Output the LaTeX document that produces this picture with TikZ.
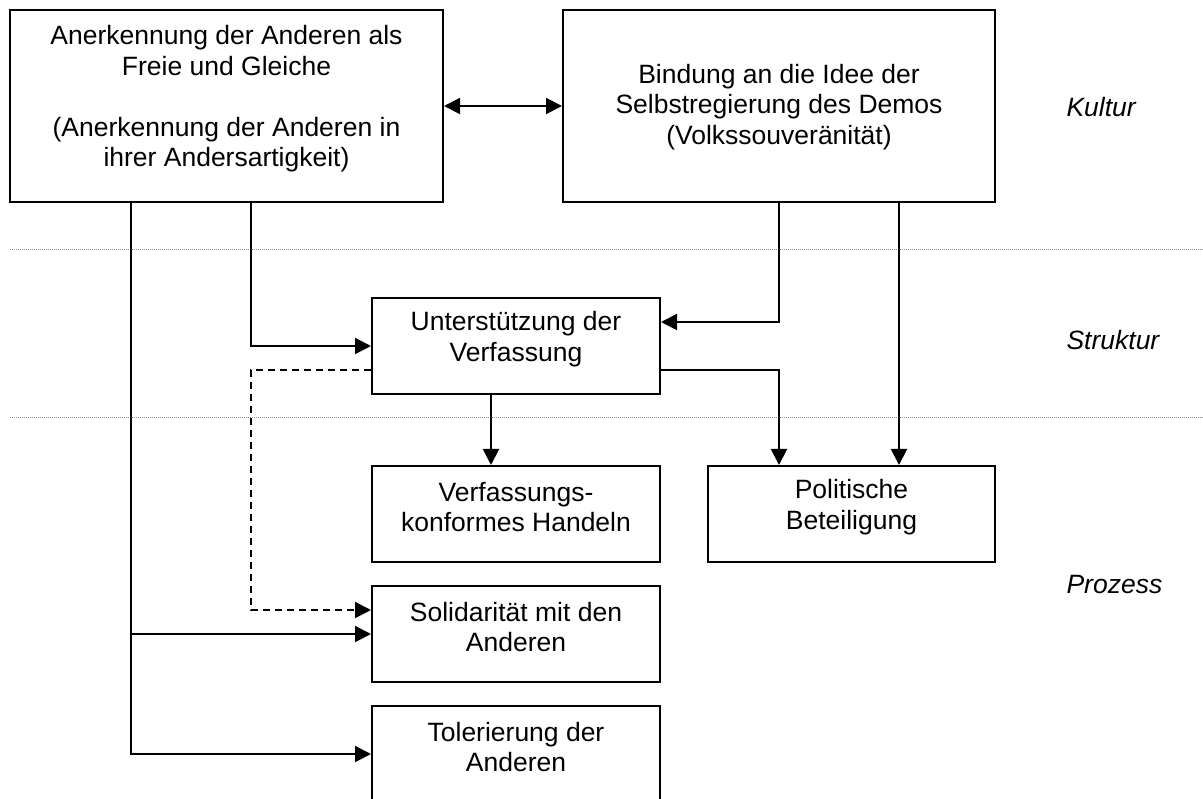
\documentclass[tikz,border=0pt]{standalone}
\usepackage{fontspec}
\setmainfont{Liberation Sans}
\usepackage{tikz}
\usetikzlibrary{arrows.meta}
\definecolor{mgray}{rgb}{0.55, 0.55, 0.55}

\begin{document}
\begin{tikzpicture}[x=1pt, y=-1pt,
    box/.style={draw, line width=2pt, inner sep=0pt, minimum width=288pt, minimum height=96pt},
    txt/.style={align=center, font=\fontsize{26.5}{30.5}\selectfont},
    layer/.style={anchor=west, font=\fontsize{26.5}{30.5}\selectfont\itshape},
    arr/.style={line width=2pt, -{Triangle[length=16pt, width=16pt]}},
    both/.style={line width=2pt, {Triangle[length=16pt, width=16pt]}-{Triangle[length=16pt, width=16pt]}}]
    \useasboundingbox (0, 0) rectangle (1203, 799);

    % layer borders
    \foreach \y in {250, 418} {
      \draw [mgray, line width=1pt, dash pattern=on 1pt off 1pt] (10, \y) -- (1203, \y);
    };
    \foreach \name/\y in {Kultur/107, Struktur/340, Prozess/585} {
      \node [layer] (\name) at (1063, \y) {\name};
    };

    \node [box, minimum width=433pt, minimum height=192pt] (anerk) at (226.5, 106) {};
    \node [box, minimum width=432pt, minimum height=192pt] (bind) at (779, 106) {};
    \node [box] (verf) at (516, 346) {};
    \node [box] (konf) at (516, 514) {};
    \node [box, minimum width=287pt] (polit) at (851.5, 514) {};
    \node [box] (soli) at (516, 634) {};
    \node [box] (tol) at (516, 754) {};

    \node [txt] (anerk-t) at ([yshift=7]anerk.center) {Anerkennung der Anderen als\\Freie und Gleiche\\[30.5pt](Anerkennung der Anderen in\\ihrer Andersartigkeit)};
    \node [txt] (bind-t) at ([yshift=-1]bind.center) {Bindung an die Idee der\\Selbstregierung des Demos\\(Volkssouveränität)};
    \node [txt] (verf-t) at ([yshift=7]verf.center) {Unterstützung der\\Verfassung};
    \node [txt] (konf-t) at ([yshift=7]konf.center) {Verfassungs-\\konformes Handeln};
    \node [txt] (polit-t) at ([yshift=7]polit.center) {Politische\\Beteiligung};
    \node [txt] (soli-t) at ([yshift=7]soli.center) {Solidarität mit den\\Anderen};
    \node [txt] (tol-t) at ([yshift=7]tol.center) {Tolerierung der\\Anderen};

    \draw [both] (anerk.east) -- (bind.west);
    \draw [arr] ([xshift=122]anerk.south west) |- (tol.west);
    \draw [arr] ([xshift=122]anerk.south west) |- (soli.west);
    \draw [arr] ([xshift=242]anerk.south west) |- (verf.west);
    \draw [arr, dash pattern=on 7pt off 5pt] ([yshift=-24]verf.west) -- ++(-120, 0) |- ([yshift=24]soli.west);
    \draw [arr] ([xshift=217]bind.south west) |- ([yshift=24]verf.east);
    \draw [arr] ([xshift=337]bind.south west) -- ([xshift=337]bind.south west |- polit.north);
    \draw [arr] ([yshift=-24]verf.east) -| ([xshift=72]polit.north west);
    \draw [arr] ([xshift=120]verf.south west) -- ([xshift=120]verf.south west |- konf.north);
  \end{tikzpicture}
\end{document}
